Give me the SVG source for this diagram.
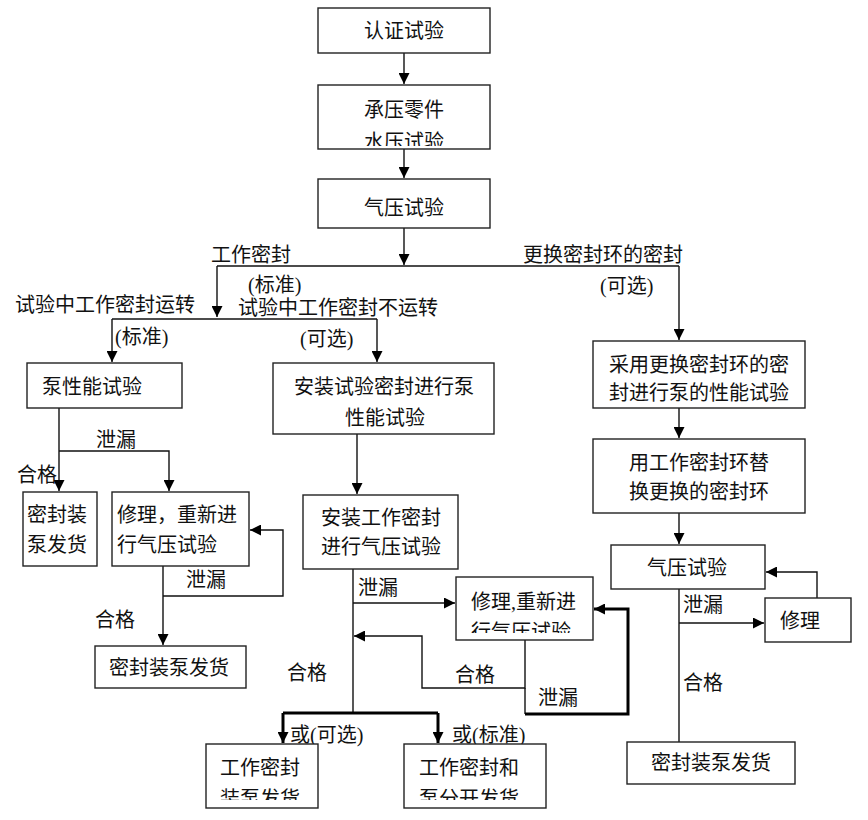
<svg xmlns="http://www.w3.org/2000/svg" width="868" height="820" viewBox="0 0 868 820">
<style>
.b{fill:#fff;stroke:#222;stroke-width:1.4}
text{font-family:"Liberation Serif","Noto Sans CJK SC",sans-serif;font-size:20px;fill:#111}
.c{text-anchor:middle}
.l{fill:none;stroke:#111;stroke-width:1.4}
.t{fill:none;stroke:#000;stroke-width:3}
</style>
<defs>
<marker id="a" viewBox="0 0 10 10" refX="10" refY="5" markerWidth="11" markerHeight="11" markerUnits="userSpaceOnUse" orient="auto"><path d="M0,0 L10,5 L0,10 z" fill="#000"/></marker>
<clipPath id="k1"><rect x="318" y="85" width="172" height="61"/></clipPath>
<clipPath id="k2"><rect x="593" y="341" width="212" height="61"/></clipPath>
<clipPath id="k3"><rect x="456" y="577" width="137" height="56"/></clipPath>
<clipPath id="k4"><rect x="206" y="744" width="112" height="56"/></clipPath>
<clipPath id="k5"><rect x="404" y="744" width="142" height="56"/></clipPath>
</defs>
<rect width="868" height="820" fill="#fff"/>
<g id="connectors">
<path class="l" d="M404,53 V84" marker-end="url(#a)"/>
<path class="l" d="M404,149 V178" marker-end="url(#a)"/>
<path class="l" d="M404,228 V265" marker-end="url(#a)"/>
<path class="l" d="M217,266 H679"/>
<path class="l" d="M217,266 V317" marker-end="url(#a)"/>
<path class="l" d="M679,266 V340" marker-end="url(#a)"/>
<path class="l" d="M112,319 H377"/>
<path class="l" d="M112,319 V362" marker-end="url(#a)"/>
<path class="l" d="M377,319 V362" marker-end="url(#a)"/>
<path class="l" d="M59,408 V491" marker-end="url(#a)"/>
<path class="l" d="M59,451 H169 V491" marker-end="url(#a)"/>
<path class="l" d="M163,566 V645" marker-end="url(#a)"/>
<path class="l" d="M163,596 H283 V530 H250" marker-end="url(#a)"/>
<path class="l" d="M357,434 V494" marker-end="url(#a)"/>
<path class="l" d="M353,569 V713"/>
<path class="l" d="M353,603 H455" marker-end="url(#a)"/>
<path class="l" d="M525,640 V688 H422 V636 H354" marker-end="url(#a)"/>
<path class="l" d="M525,688 V714"/>
<path class="t" d="M525,714 H628 V609 H594" marker-end="url(#a)"/>
<path class="t" d="M283,713 H438"/>
<path class="t" d="M283,713 V743" marker-end="url(#a)"/>
<path class="t" d="M438,713 V743" marker-end="url(#a)"/>
<path class="l" d="M679,408 V438" marker-end="url(#a)"/>
<path class="l" d="M679,513 V544" marker-end="url(#a)"/>
<path class="l" d="M679,589 V742"/>
<path class="l" d="M679,623 H764" marker-end="url(#a)"/>
<path class="l" d="M817,598 V572 H766" marker-end="url(#a)"/>
</g>
<g id="labels">
<text x="211" y="262">工作密封</text>
<text x="248" y="292">(标准)</text>
<text x="15" y="312">试验中工作密封运转</text>
<text x="238" y="315">试验中工作密封不运转</text>
<text x="115" y="344">(标准)</text>
<text x="300" y="346">(可选)</text>
<text x="523" y="262">更换密封环的密封</text>
<text x="600" y="293">(可选)</text>
<text x="96" y="447">泄漏</text>
<text x="17" y="482">合格</text>
<text x="186" y="587">泄漏</text>
<text x="95" y="627">合格</text>
<text x="358" y="595">泄漏</text>
<text x="287" y="680">合格</text>
<text x="455" y="682">合格</text>
<text x="538" y="705">泄漏</text>
<text x="290" y="742">或(可选)</text>
<text x="452" y="742">或(标准)</text>
<text x="683" y="612">泄漏</text>
<text x="683" y="690">合格</text>
</g>
<g id="n1"><rect class="b" x="318" y="8" width="172" height="45"/><text class="c" x="404" y="38">认证试验</text></g>
<g id="n2"><rect class="b" x="318" y="85" width="172" height="64"/><g clip-path="url(#k1)"><text class="c" x="404" y="117">承压零件</text><text class="c" x="404" y="149">水压试验</text></g></g>
<g id="n3"><rect class="b" x="318" y="179" width="172" height="49"/><text class="c" x="404" y="215">气压试验</text></g>
<g id="n4"><rect class="b" x="27" y="363" width="155" height="45"/><text x="42" y="394">泵性能试验</text></g>
<g id="n5"><rect class="b" x="273" y="363" width="221" height="71"/><text class="c" x="384" y="394">安装试验密封进行泵</text><text class="c" x="385" y="425">性能试验</text></g>
<g id="n6"><rect class="b" x="593" y="341" width="212" height="67"/><g clip-path="url(#k2)"><text class="c" x="699" y="372">采用更换密封环的密</text><text class="c" x="699" y="400">封进行泵的性能试验</text></g></g>
<g id="n7"><rect class="b" x="23" y="492" width="74" height="74"/><text x="27" y="522">密封装</text><text x="27" y="552">泵发货</text></g>
<g id="n8"><rect class="b" x="112" y="492" width="137" height="74"/><text x="117" y="522">修理，重新进</text><text x="117" y="552">行气压试验</text></g>
<g id="n9"><rect class="b" x="95" y="646" width="151" height="42"/><text class="c" x="169" y="675">密封装泵发货</text></g>
<g id="n10"><rect class="b" x="303" y="495" width="155" height="74"/><text class="c" x="381" y="525">安装工作密封</text><text class="c" x="381" y="554">进行气压试验</text></g>
<g id="n11"><rect class="b" x="456" y="577" width="137" height="63"/><g clip-path="url(#k3)"><text x="471" y="609">修理,重新进</text><text x="471" y="639">行气压试验</text></g></g>
<g id="n12"><rect class="b" x="206" y="744" width="112" height="64"/><g clip-path="url(#k4)"><text x="220" y="775">工作密封</text><text x="220" y="806">装泵发货</text></g></g>
<g id="n13"><rect class="b" x="404" y="744" width="142" height="64"/><g clip-path="url(#k5)"><text x="419" y="775">工作密封和</text><text x="419" y="806">泵分开发货</text></g></g>
<g id="n14"><rect class="b" x="593" y="439" width="212" height="74"/><text class="c" x="699" y="470">用工作密封环替</text><text class="c" x="699" y="499">换更换的密封环</text></g>
<g id="n15"><rect class="b" x="611" y="545" width="154" height="44"/><text class="c" x="687" y="575">气压试验</text></g>
<g id="n16"><rect class="b" x="765" y="598" width="86" height="44"/><text x="780" y="628">修理</text></g>
<g id="n17"><rect class="b" x="627" y="742" width="168" height="42"/><text class="c" x="711" y="770">密封装泵发货</text></g>
</svg>
